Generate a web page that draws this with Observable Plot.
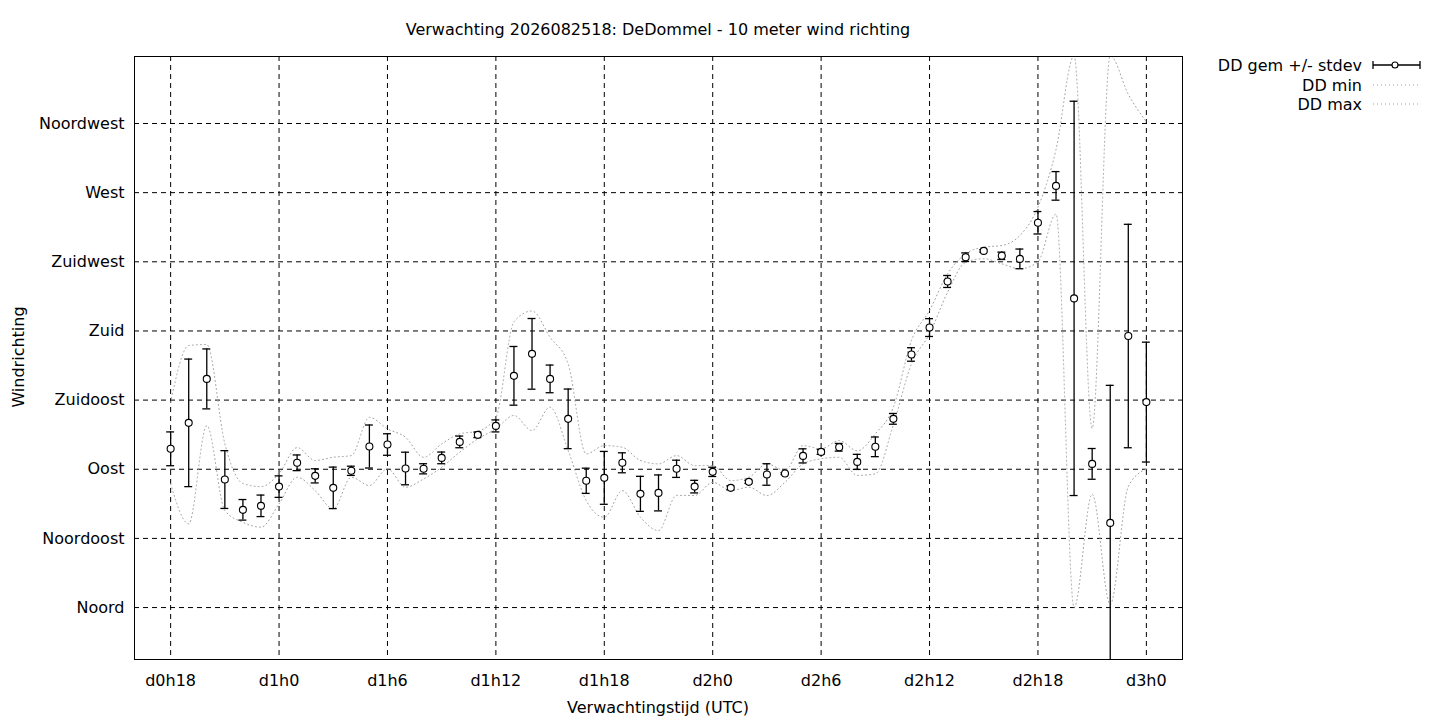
<!DOCTYPE html>
<html><head><meta charset="utf-8">
<script src="https://cdn.jsdelivr.net/npm/d3@7"></script>
<script src="https://cdn.jsdelivr.net/npm/@observablehq/plot@0.6"></script>
<style>body{margin:0;background:#fff;} svg{display:block;}</style>
</head><body><div id="chart"></div>
<script>
// forecast hour offsets from d0h18
const hours = [0,1,2,3,4,5,6,7,8,9,10,11,12,13,14,15,16,17,18,19,20,21,22,23,24,25,26,27,28,29,30,31,32,33,34,35,36,37,38,39,40,41,42,43,44,45,46,47,48,49,50,51,52,53,54];
const ddMean = [103.3,120.2,148.8,83.3,63.6,66.2,78.7,94.2,85.7,77.9,89.0,104.8,106.1,90.5,90.3,97.4,107.8,112.4,118.2,150.8,165.1,148.8,122.8,82.5,84.4,94.2,74.0,74.6,90.3,78.7,88.3,77.9,81.8,86.6,87.2,98.7,101.3,104.3,94.8,104.6,122.8,164.7,182.2,212.2,228.0,232.1,228.9,226.9,250.4,274.4,201.2,93.5,55.1,176.7,133.7];
const ddStdev = [11,41.5,19.5,18.8,6.7,7,7,5.1,4.6,13.5,3,14,7,10.6,3.3,3.8,3.8,1.8,3.9,19.1,23,9,19.4,8.2,17.2,6.5,11.4,11.7,5.6,4.1,3,1.3,1,7,0.6,4.6,1.6,2.5,4.9,6.4,3.5,4.4,5.8,3.9,2.8,0.8,2.4,6.4,7.3,9.3,128.3,10,89.5,72.7,39];
const ddMin = [80.5,54.5,118.4,63.1,55.5,52.3,67.5,84.8,76.1,64.2,84.8,79.4,90.3,78.3,83.7,91.3,101.1,109.8,116.3,125,115.2,130.4,102.2,69.6,58.8,76.1,58.8,50.1,73,72.9,81.5,76.1,78.3,72.9,81.5,93.5,96.8,97.8,86,87,119,158.6,178.1,205.2,224.7,227,223.7,220.4,225,256,0,73.8,2,78.8,90.2];
const ddMax = [133.6,170.5,171.2,106.7,80.7,78.7,87.2,104.1,95.7,97.8,98.9,123.8,116.3,110.8,97.8,106.5,113,114.8,123.8,186,193,175.9,158.6,100,105.4,104.3,95.7,93.5,98.9,92.4,92.4,82.6,84.8,93.5,89.2,105.4,103.3,108.7,102,113,130.4,173.8,193.3,217.2,230.2,234.5,235.6,242.1,260.5,298,359,116.7,359,334,316];
const xTickHours = [0,6,12,18,24,30,36,42,48,54];
const xTickLabels = ["d0h18","d1h0","d1h6","d1h12","d1h18","d2h0","d2h6","d2h12","d2h18","d3h0"];
const yTickValues = [0,45,90,135,180,225,270,315];
const yTickLabels = ["Noord","Noordoost","Oost","Zuidoost","Zuid","Zuidwest","West","Noordwest"];

const data = hours.map((h, i) => ({h, mean: ddMean[i], sd: ddStdev[i], min: ddMin[i], max: ddMax[i]}));

const FONT = "DejaVu Sans";
const FS = 16;
const DOT_STYLE = {stroke: "#a0a0a0", strokeWidth: 1, strokeDasharray: "1,3"};
const chart = Plot.plot({
  width: 1440, height: 720,
  marginLeft: 134, marginRight: 258, marginTop: 56, marginBottom: 61,
  style: {fontFamily: FONT, fontSize: FS + "px", color: "black", background: "white", overflow: "visible"},
  x: {domain: [-2, 56], ticks: xTickHours, tickFormat: d => xTickLabels[xTickHours.indexOf(d)], tickSize: 0, tickPadding: 15, label: null},
  y: {domain: [-33.8, 358.6], ticks: yTickValues, tickFormat: d => yTickLabels[yTickValues.indexOf(d)], tickSize: 0, tickPadding: 10, label: null},
  marks: [
    Plot.ruleX(xTickHours, {stroke: "black", strokeWidth: 1, strokeDasharray: "5,4"}),
    Plot.ruleY(yTickValues, {stroke: "black", strokeWidth: 1, strokeDasharray: "5,4"}),
    Plot.line(data, {x: "h", y: "min", curve: "monotone-x", ...DOT_STYLE, clip: true}),
    Plot.line(data, {x: "h", y: "max", curve: "monotone-x", ...DOT_STYLE, clip: true}),
    Plot.ruleX(data, {x: "h", y1: d => d.mean - d.sd, y2: d => d.mean + d.sd, stroke: "black", strokeWidth: 1.3, clip: true}),
    Plot.ruleY(data, {y: d => d.mean + d.sd, x1: d => d.h - 0.22, x2: d => d.h + 0.22, stroke: "black", strokeWidth: 1.3, clip: true}),
    Plot.ruleY(data, {y: d => d.mean - d.sd, x1: d => d.h - 0.22, x2: d => d.h + 0.22, stroke: "black", strokeWidth: 1.3, clip: true}),
    Plot.dot(data, {x: "h", y: "mean", r: 3.5, fill: "white", stroke: "black", strokeWidth: 1.1}),
    Plot.frame({stroke: "black", strokeWidth: 1})
  ]
});

const svg = d3.select(chart);
const txt = (x, y, s, anchor, extra) => {
  const t = svg.append("text").attr("x", x).attr("y", y).attr("text-anchor", anchor)
    .attr("font-family", FONT).attr("font-size", FS).attr("fill", "black").text(s);
  if (extra) extra(t);
  return t;
};
txt(658, 35, "Verwachting 2026082518: DeDommel - 10 meter wind richting", "middle");
txt(658, 713, "Verwachtingstijd (UTC)", "middle");
txt(0, 0, "Windrichting", "middle", t => t.attr("transform", "translate(24,357) rotate(-90)"));

// legend
const lg = svg.append("g");
const legendLabels = ["DD gem +/- stdev", "DD min", "DD max"];
const ly = [65, 85, 104];
legendLabels.forEach((s, i) => txt(1362, ly[i] + 6, s, "end"));
lg.append("line").attr("x1", 1373).attr("x2", 1420).attr("y1", ly[0]).attr("y2", ly[0]).attr("stroke", "black").attr("stroke-width", 1.3);
lg.append("line").attr("x1", 1373).attr("x2", 1373).attr("y1", ly[0] - 4).attr("y2", ly[0] + 4).attr("stroke", "black").attr("stroke-width", 1.3);
lg.append("line").attr("x1", 1420).attr("x2", 1420).attr("y1", ly[0] - 4).attr("y2", ly[0] + 4).attr("stroke", "black").attr("stroke-width", 1.3);
lg.append("circle").attr("cx", 1395).attr("cy", ly[0]).attr("r", 3).attr("fill", "white").attr("stroke", "black").attr("stroke-width", 1.1);
[1, 2].forEach(i => lg.append("line").attr("x1", 1373).attr("x2", 1420).attr("y1", ly[i]).attr("y2", ly[i])
  .attr("stroke", "#a0a0a0").attr("stroke-width", 1).attr("stroke-dasharray", "1,3"));

document.getElementById("chart").appendChild(chart);
</script>
</body></html>
